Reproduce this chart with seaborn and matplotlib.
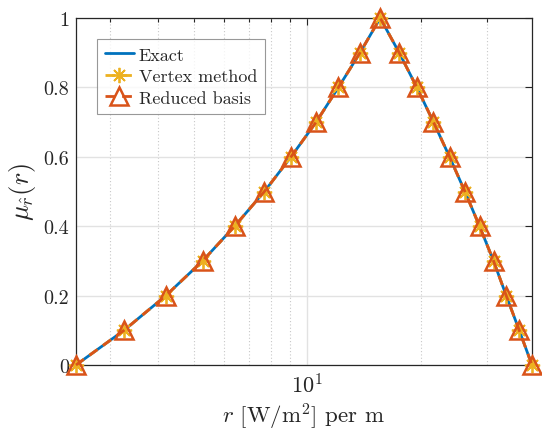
import numpy as np
import pandas as pd
import matplotlib
matplotlib.use("Agg")
import matplotlib.pyplot as plt
import seaborn as sns
from matplotlib.ticker import NullFormatter, LogLocator

# Data
r_vals = [2.43, 3.26, 4.21, 5.27, 6.41, 7.69, 9.05, 10.55, 12.09, 13.80, 15.61,
          17.53, 19.53, 21.62, 23.85, 26.20, 28.65, 31.21, 33.73, 36.52, 39.48]
mu_vals = [0.0, 0.1, 0.2, 0.3, 0.4, 0.5, 0.6, 0.7, 0.8, 0.9, 1.0,
           0.9, 0.8, 0.7, 0.6, 0.5, 0.4, 0.3, 0.2, 0.1, 0.0]
series_names = ["Exact", "Vertex method", "Reduced basis"]
y_ticks = [0, 0.2, 0.4, 0.6, 0.8, 1.0]
y_ticklabels = ["0", "0.2", "0.4", "0.6", "0.8", "1"]

df = pd.DataFrame({"r": r_vals, "mu": mu_vals})

sns.set_style("white")
plt.rcParams["font.family"] = ["serif"]
plt.rcParams["font.serif"] = ["cmr10", "DejaVu Serif"]
plt.rcParams["mathtext.fontset"] = "cm"
plt.rcParams["axes.formatter.use_mathtext"] = True

fig = plt.figure(figsize=(5.42, 4.31), dpi=100)
ax = fig.add_axes([0.1402, 0.1508, 0.9815 - 0.1402, 0.9559 - 0.1508])

blue = "#0072BD"
yellow = "#EDB120"
orange = "#D95319"

sns.lineplot(data=df, x="r", y="mu", sort=False, ax=ax, color=blue, lw=2.0,
             label=series_names[0], zorder=3)
sns.lineplot(data=df, x="r", y="mu", sort=False, ax=ax, color=yellow, lw=2.0,
             linestyle=(0, (3.5, 2.5)), marker=(8, 2, 0), markersize=11,
             markeredgewidth=1.3, markeredgecolor=yellow,
             label=series_names[1], zorder=4, clip_on=False)
sns.lineplot(data=df, x="r", y="mu", sort=False, ax=ax, color=orange, lw=2.0,
             linestyle=(0, (3.5, 2.5)), marker="^", markersize=13,
             markeredgewidth=1.8, markerfacecolor="none", markeredgecolor=orange,
             label=series_names[2], zorder=5, clip_on=False)

ax.set_xscale("log")
ax.set_xlim(min(r_vals), max(r_vals))
ax.set_ylim(0, 1)
ax.set_yticks(y_ticks)
ax.set_yticklabels(y_ticklabels)
ax.xaxis.set_major_locator(LogLocator(base=10))
ax.xaxis.set_minor_locator(LogLocator(base=10, subs=np.arange(2, 10)))
ax.xaxis.set_minor_formatter(NullFormatter())

ax.tick_params(axis="both", which="both", direction="in", top=True, right=True,
               colors="#262626", length=5, width=0.8, pad=5)
ax.tick_params(axis="y", labelsize=14.5)
ax.tick_params(axis="x", labelsize=16)
ax.tick_params(axis="both", which="minor", length=3)
for s in ax.spines.values():
    s.set_color("#262626")
    s.set_linewidth(0.9)

ax.grid(True, which="major", color="#e2e2e2", lw=1.0, ls="-")
ax.grid(True, which="minor", axis="x", color="#c8c8c8", lw=0.8, ls=(0, (1, 2)))
ax.set_axisbelow(True)

ax.set_xlabel(r"$r$ [W/m$^2$] per m", fontsize=16.5, color="#262626", labelpad=3)
ax.set_ylabel(r"$\mu_{\hat{r}}(r)$", fontsize=19, color="#262626", labelpad=4)

leg = ax.legend(loc="upper left", bbox_to_anchor=(0.045, 0.94), fontsize=13,
                frameon=True, fancybox=False, edgecolor="#7f7f7f",
                handlelength=1.6, handletextpad=0.3, borderpad=0.45,
                labelspacing=0.33, borderaxespad=0)
leg.get_frame().set_linewidth(0.8)

fig.savefig("out.png", dpi=100)
